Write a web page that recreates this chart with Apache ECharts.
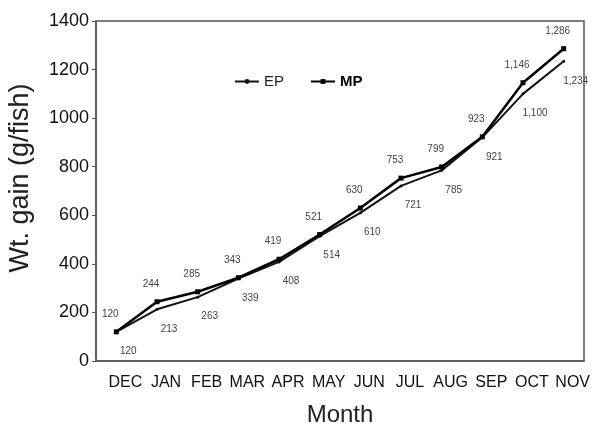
<!DOCTYPE html>
<html>
<head>
  <meta charset="utf-8">
  <title>Wt. gain</title>
  <script src="https://cdn.jsdelivr.net/npm/echarts@6/dist/echarts.min.js"></script>
  <style>
    html, body { margin: 0; padding: 0; background: #fff; }
    #main { width: 602px; height: 428px; }
  </style>
</head>
<body>
  <div id="main"></div>
  <script>
  // data
  var months = ['DEC', 'JAN', 'FEB', 'MAR', 'APR', 'MAY', 'JUN', 'JUL', 'AUG', 'SEP', 'OCT', 'NOV'];
  var epGain = [120, 213, 263, 339, 408, 514, 610, 721, 785, 921, 1100, 1234];
  var mpGain = [120, 244, 285, 343, 419, 521, 630, 753, 799, 923, 1146, 1286];
  var yTicks = [0, 200, 400, 600, 800, 1000, 1200, 1400];

  var font = 'Arial, "Liberation Sans", sans-serif';

  function fmt(p) {
    return p.value >= 1000 ? p.value.toLocaleString('en-US') : String(p.value);
  }

  var chart = echarts.init(document.getElementById('main'));
  chart.setOption({
    animation: false,
    backgroundColor: '#fff',
    textStyle: { fontFamily: font },
    grid: {
      left: 96, right: 18, top: 21, bottom: 67,
      outerBoundsMode: 'none',
      containLabel: false,
      show: true, borderColor: '#555', borderWidth: 1.5, backgroundColor: 'transparent'
    },
    legend: {
      left: 229, top: 69,
      itemWidth: 24, itemHeight: 6, itemGap: 26,
      data: [
        { name: 'EP', textStyle: { fontSize: 15, color: '#222' } },
        { name: 'MP', textStyle: { fontSize: 15, color: '#000', fontWeight: 'bold' } }
      ],
      textStyle: { fontFamily: font }
    },
    xAxis: {
      type: 'category',
      data: months,
      boundaryGap: true,
      name: 'Month',
      nameLocation: 'middle',
      nameGap: 42,
      nameTextStyle: { fontSize: 24, color: '#222', fontFamily: font },
      axisLine: { lineStyle: { color: '#555', width: 1.5 } },
      axisTick: { show: false },
      axisLabel: { fontSize: 16, color: '#111', margin: 14, padding: [0, 0, 0, 18], interval: 0 },
      splitLine: { show: false }
    },
    yAxis: {
      type: 'value',
      min: yTicks[0],
      max: yTicks[yTicks.length - 1],
      interval: 200,
      name: 'Wt. gain (g/fish)',
      nameLocation: 'middle',
      nameGap: 62,
      nameTextStyle: { fontSize: 27, color: '#222', fontFamily: font, padding: [0, 0, 0, 26] },
      axisLine: { show: true, lineStyle: { color: '#555', width: 1.5 } },
      axisTick: { show: true, length: 4, lineStyle: { color: '#555' } },
      axisLabel: { fontSize: 18, color: '#111', margin: 7, formatter: function (v) { return String(v); } },
      splitLine: { show: false }
    },
    series: [
      {
        name: 'EP',
        type: 'line',
        data: epGain,
        symbol: 'circle',
        symbolSize: 3,
        itemStyle: { color: '#111' },
        lineStyle: { color: '#111', width: 2 },
        label: {
          show: true, position: 'bottom', offset: [12, 8],
          fontSize: 10, color: '#444', fontFamily: font, formatter: fmt
        },
        z: 3
      },
      {
        name: 'MP',
        type: 'line',
        data: mpGain,
        symbol: 'rect',
        symbolSize: 5,
        itemStyle: { color: '#000' },
        lineStyle: { color: '#000', width: 2.5 },
        label: {
          show: true, position: 'top', offset: [-6, -5],
          fontSize: 10, color: '#444', fontFamily: font, formatter: fmt
        },
        z: 4
      }
    ]
  });
  </script>
</body>
</html>
